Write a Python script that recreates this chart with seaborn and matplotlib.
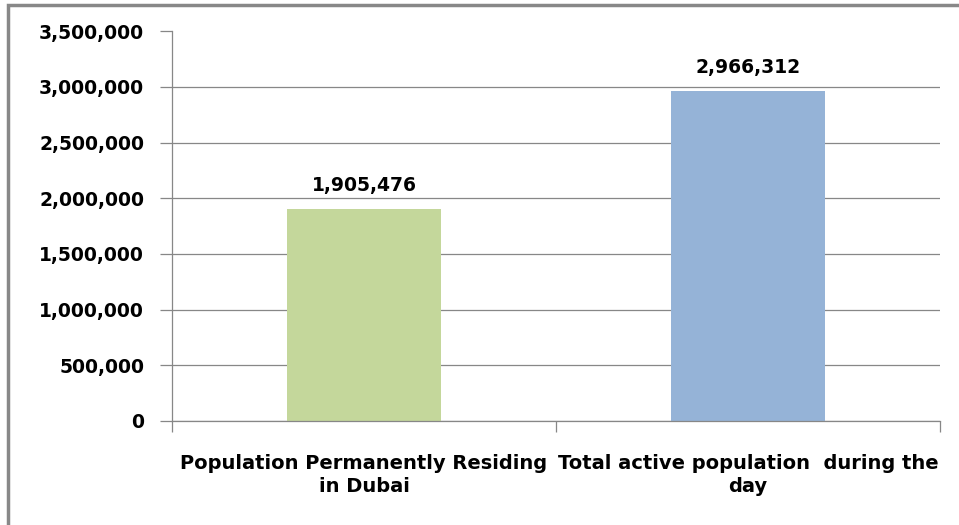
import matplotlib
matplotlib.use('Agg')
import matplotlib.pyplot as plt
import seaborn as sns
import pandas as pd
from matplotlib.patches import Rectangle
from matplotlib.ticker import FuncFormatter, FixedLocator

categories = ['Population Permanently Residing\nin Dubai',
              'Total active population  during the\nday']
values = [1905476, 2966312]
colors = ['#C4D79B', '#95B3D7']
y_ticks = [0, 500000, 1000000, 1500000, 2000000, 2500000, 3000000, 3500000]

df = pd.DataFrame({'category': categories, 'value': values})

sns.set_style('white')
plt.rcParams['font.family'] = ['DejaVu Sans']
plt.rcParams['text.color'] = 'black'
plt.rcParams['xtick.color'] = 'black'
plt.rcParams['ytick.color'] = 'black'

fig = plt.figure(figsize=(9.59, 5.25), dpi=100)
ax = fig.add_axes([172 / 959, 1 - 421 / 525, (940 - 172) / 959, (421 - 31.3) / 525])

sns.barplot(data=df, x='category', y='value', hue='category', palette=colors,
            width=0.40, legend=False, ax=ax, saturation=1, linewidth=0)

ax.set_xlim(-0.5, 1.5)
ax.set_ylim(0, 3500000)
ax.set_yticks(y_ticks)
ax.yaxis.set_major_formatter(FuncFormatter(lambda v, p: f'{int(v):,}'))
ax.set_xlabel('')
ax.set_ylabel('')

grid_c = '#878787'
lw = 0.9
ax.yaxis.grid(True, color=grid_c, linewidth=lw)
ax.set_axisbelow(True)
ax.get_ygridlines()[-1].set_visible(False)
ax.yaxis.get_major_ticks()[-1].tick1line.set_visible(False)

for side in ['top', 'right']:
    ax.spines[side].set_visible(False)
for side in ['left', 'bottom']:
    ax.spines[side].set_color(grid_c)
    ax.spines[side].set_linewidth(lw)

ax.tick_params(axis='y', direction='out', length=9, width=lw, color=grid_c,
               labelcolor='black', labelsize=13.5, pad=11, left=True)
for lab in ax.get_yticklabels():
    lab.set_fontweight('bold')

# category labels at centres, boundary ticks as minor ticks
ax.tick_params(axis='x', which='major', length=0, pad=24, labelcolor='black')
ax.xaxis.set_minor_locator(FixedLocator([-0.5, 0.5, 1.5]))
ax.tick_params(axis='x', which='minor', direction='out', length=8, width=lw,
               color=grid_c, bottom=True)
for lab in ax.get_xticklabels():
    lab.set_fontweight('bold')
    lab.set_fontsize(14)
    lab.set_linespacing(1.25)

for i, v in enumerate(values):
    ax.annotate(f'{v:,}', (i, v), xytext=(0, 10), textcoords='offset points',
                ha='center', va='bottom', fontsize=13.5, fontweight='bold',
                color='black')

# outer chart frame (only left and top edges visible in the crop)
fig.patches.append(Rectangle((8 / 959, -0.1), 1.2, 1.1 - 5 / 525,
                             transform=fig.transFigure, fill=False,
                             edgecolor='#888888', linewidth=2.5))

fig.savefig('out.png', dpi=100)
